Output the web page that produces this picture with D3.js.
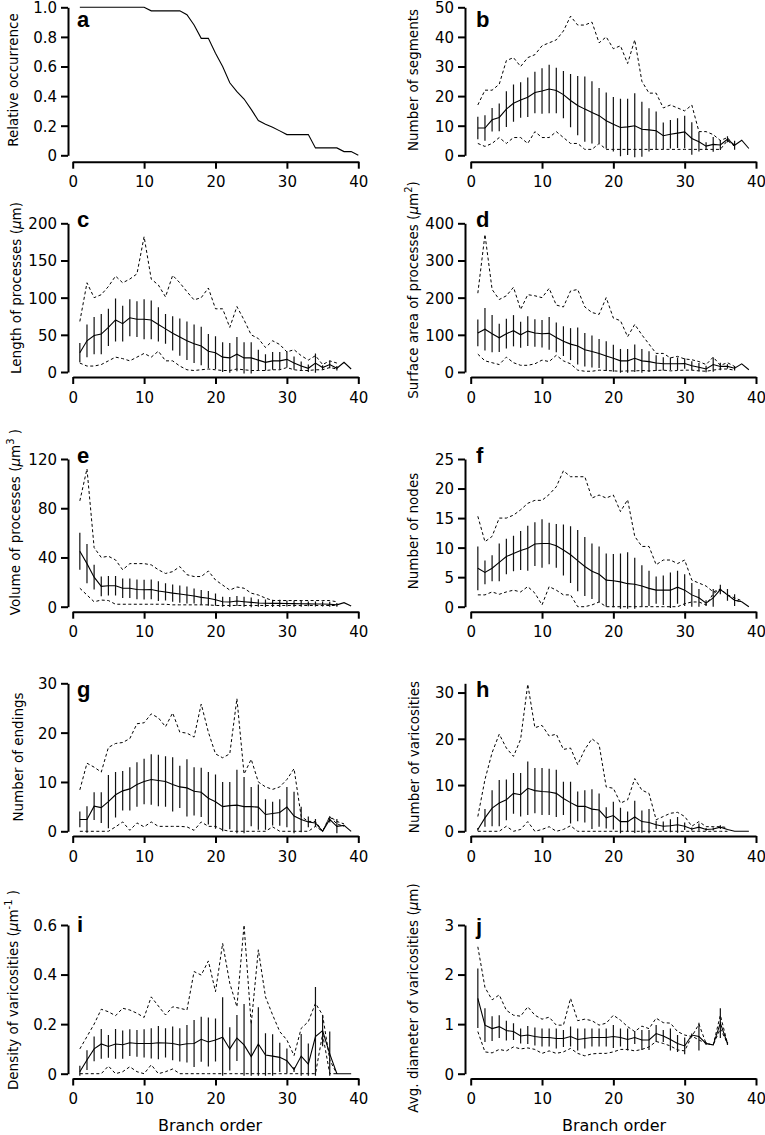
<!DOCTYPE html>
<html><head><meta charset="utf-8">
<script src="https://cdnjs.cloudflare.com/ajax/libs/d3/7.8.5/d3.min.js"></script>
<style>body{margin:0;background:#fff} svg{display:block}</style>
</head><body><svg id="c" width="765" height="1135"></svg>
<script>
// ---------- DATA (branch order 1..n) ----------
const xTicks = [0, 10, 20, 30, 40];

const aOcc = [1,1,1,1,1,1,1,1,1,1, 0.976,0.976,0.976,0.976,0.976, 0.95,0.88,0.79,0.79,0.69, 0.60,0.49,0.43,0.38,0.31, 0.235,0.21,0.19,0.165,0.14, 0.14,0.14,0.14,0.05,0.05, 0.05,0.05,0.025,0.025,0];
const aTicks = [0,0.2,0.4,0.6,0.8,1.0];
const aTickLabels = ['0','0.2','0.4','0.6','0.8','1.0'];

const bMean = [9.2,9.2,12,12.8,15.6,17.6,18.7,19.6,21.2,21.7, 22.4,21.9,20.5,18.5,16.8,15.6,14.5,13.4,11.7,10.5, 9.4,9.6,10,8.8,8.6,8.3,6.6,7.1,7.5,7.9, 5.7,4.6,3.1,3.7,3.5,5.4,3.4,5.1,2.3];
const bSD = [3.8,4.3,4,4.7,6,6.3,6,6.7,7,7.7, 8.2,7.7,8,9,10,11,10.5,9.3,9.5,9.2, 9.7,9.5,11,9.3,7.3,6.5,4.5,4.8,5,5.5, 5.5,3.3,1.3,2.5,1.7,1,1.5,null,null];
const bMax = [17,22,22,24,32,33,30,33,34,37, 38,39,42,47,44,44,45,38,40,36, 37,31,39,25,21,21,16,17,16,15, 17,8,8,7,5,6,3,null,null];
const bMin = [4,3,4,6,4,6,6,4,8,6, 6,8,6,4,4,2,2,4,2,2, 2,2,2,2,2,2,2,2,2,2, 2,2,2,2,2,5,3,null,null];
const bTicks = [0,10,20,30,40,50];

const cMean = [26,42,49,51,60,70,65,73,71,71, 70,64,58,52,47,42,38,35,28,26, 20,19,24,19,19,16,13,15,15,17, 12,8,5,12,6,10,5,13,4];
const cSD = [13,22,25,27,25,29,24,25,24,27, 26,23,20,23,25,26,26,26,23,22, 20,20,23,21,21,14,11,12,12,11, 9,6,5,13,3,5,3,null,null];
const cMax = [68,120,100,104,115,129,120,125,132,182, 125,117,101,130,120,108,97,100,113,85, 85,60,88,70,50,45,33,42,37,27, 30,22,16,22,10,15,12,null,null];
const cMin = [12,8,8,10,15,20,18,15,20,25, 20,28,15,15,8,3,2,3,4,3, 2,2,4,3,2,2,2,3,3,6, 3,2,2,3,3,6,4,null,null];
const cTicks = [0,50,100,150,200];

const dMean = [105,115,103,92,103,111,100,110,105,103, 104,93,83,75,70,60,55,50,43,37, 30,30,37,30,28,24,22,22,22,23, 17,13,8,20,15,15,10,22,6];
const dSD = [36,57,50,38,40,42,35,40,37,37, 44,40,40,43,50,45,43,39,40,36, 32,32,37,32,28,21,18,17,17,14, 12,11,9,19,10,6,6,null,null];
const dMax = [212,370,222,195,205,228,168,208,205,200, 225,180,175,218,222,175,160,155,200,145, 138,95,128,100,75,50,50,38,42,35, 33,28,20,40,18,25,15,null,null];
const dMin = [48,30,25,20,40,25,18,18,22,32, 28,45,30,22,5,2,2,5,4,3, 2,3,3,4,3,4,5,3,4,5, 5,3,2,5,8,8,5,null,null];
const dTicks = [0,100,200,300,400];

const eMean = [45,35,24,16.5,17,17,15,15,14,13.8, 14,12.7,12,11,10.3,9.5,8.7,7.6,6.8,5.7, 4,3.8,4.6,4,3.5,3,2.8,2.7,2.7,2.6, 2.5,2.4,2.3,2.2,2.2,2,1.5,3.3,0.5];
const eSD = [15,16,10,8,8,8,8,8,8,8, 8,8,7,7,7,7,6,6,6,5, 4,4,4,4,4,3,3,3,3,2.5, 2.5,2.5,2,2,2,2,1.5,null,null];
const eMax = [86,112,48,40,41,38,30,35,35,35, 34,30,27,28.5,32.6,26,24.5,24.5,29,21.7, 17.6,13.5,16,15,11,9.5,7,5,5,5, 5,5,5,5,5,5,4,null,null];
const eMin = [15,9.5,4,5.4,5,2,2,2,2,2, 2,2,2,1.5,1.5,1.5,1.5,1.5,1.5,1, 1,1,1,1,1,1,1,1,1,1, 1,1,1,1,1,1,1,null,null];
const eTicks = [0,40,80,120];

const fMean = [6.5,5.8,6.5,7.5,8.5,9,9.5,9.9,10.6,10.7, 10.7,10.3,9.6,8.8,7.8,6.8,6,5.5,4.5,4.4, 4.2,3.9,3.8,3.5,3.1,2.8,2.8,2.8,3.3,2.8, 2,1.5,0.6,1.5,2.9,2,1.1,0.85,0];
const fSD = [3.7,2,2.2,3.2,3,3,3.3,3.8,3.7,4.1, 3.5,3.7,4.3,4.8,5.2,5,4.7,4.7,4.5,4.5, 4.8,5.3,4.5,3.5,3,2.3,2.5,3,2.8,2.7, 2,1.5,0.5,1.5,0.8,1,1,null,null];
const fMax = [15.3,11,11.9,15,15,15.5,16.4,17.5,18,18, 19,20.3,23,22,22,22,18.4,18.9,18.4,18.9, 16.1,18.1,11.9,10.2,10.2,7.1,7.9,7.9,7.3,7.9, 4.5,4,3.5,2.5,3,2,1.5,1,null];
const fMin = [2,2,2.5,2.1,2.5,2.8,2.5,3.4,2.3,0.3, 3.4,2.8,2,2,0,0,0.3,0.8,0,0, 0,0,0,0,0,0,0,0,0,0.5, 0.8,0.8,0.3,2.2,3,2,1.1,0.85,null];
const fTicks = [0,5,10,15,20,25];

const gMean = [2.4,2.4,5.1,4.8,6,7.4,8.2,8.6,9.5,10.1, 10.5,10.3,10.1,9.5,9,8.8,8.1,7.9,6.7,6, 5,5.2,5.3,5,5,4.9,3.4,3.6,3.8,4.9, 3.1,2.4,1.9,1.7,0,2.4,1,1.2,0];
const gSD = [1.6,2.7,2.8,3.1,5.4,4.6,4,4.4,4.5,4.6, 5.1,5.2,5.1,5.5,4.3,5.8,4.9,5,5.3,5.5, 5,4.8,7.2,6,4,4.6,3.1,2.4,2.7,4.1, 4.9,2.6,1.1,0.8,0,0.6,1.5,null,null];
const gMax = [8.4,13.8,13,12,17,17.8,18,18.8,21.8,22, 23.8,23,21.2,24,20.1,19.9,19.1,25.8,20.1,15.7, 14.9,15.7,26.9,11.6,14.6,10,9,8.5,9,10.5, 12.7,3,2,2,0,3,2,1.5,null];
const gMin = [0,0,0,0,0,0.9,1.9,0.2,1.7,0.9, 1.9,1,1,1,1,0.9,0.2,1.9,1,1, 0.3,0,0,0,0,0,0,0.9,0,0, 0,0,0,1,0,3,1.5,1,null];
const gTicks = [0,10,20,30];

const hMean = [0.4,2.9,5,6.1,6.8,8.2,7.9,9.3,8.8,8.6, 8.5,8.2,7.1,6.2,5.4,5.4,4.8,4.6,2.9,3.4, 2.1,2.1,3.1,2.1,1.9,1.4,1.1,1.2,1.4,1.1, 0.5,0.9,0.4,0.5,0.9,0.4,0,0,0];
const hSD = [0.3,1.9,3.9,5,4.4,4.4,4.7,5.8,4.9,5.1, 5,5.1,3.6,4.5,3.2,3.5,4.3,3.6,2.3,3, 3,2.2,3.5,2.4,2.9,0.9,1,1.4,1.7,0.8, 0.3,0.8,0.3,0.3,0.4,null,null,null,null];
const hMax = [3.2,11.2,17,21,18,16.2,19.9,31.8,22.4,22.9, 20.6,21,17.7,18,14.4,17.7,20,18.8,9.6,9.3, 6.1,6.8,11.4,8.9,8.2,2.5,3.2,3.9,4.1,3.2, 1.1,2.1,1,1,1,0.8,null,null,null];
const hMin = [0,0,0,0,1.1,0,0.4,2.1,0,0.4, 1,0,0.4,1.2,0,0,0,0,0,0, 0,0,0,0,0,0,0,0,0,0, 0,0,0,0,0,0,null,null,null];
const hTicks = [0,10,20,30];

const iMean = [0.008,0.055,0.10,0.12,0.11,0.12,0.117,0.125,0.122,0.122, 0.122,0.125,0.124,0.122,0.116,0.121,0.122,0.139,0.128,0.136, 0.147,0.10,0.144,0.116,0.069,0.12,0.075,0.071,0.066,0.052, 0.017,0.071,0.039,0.15,0.174,0.08,0,0,0];
const iSD = [0.024,0.04,0.05,0.06,0.046,0.06,0.057,0.054,0.054,0.057, 0.061,0.067,0.059,0.068,0.067,0.076,0.095,0.091,0.099,0.087, 0.161,0.087,0.093,0.165,0.145,0.148,0.088,0.088,0.059,0.05, 0.01,0.089,0.083,0.2,0.063,0.09,null,null,null];
const iMax = [0.1,0.15,0.2,0.26,0.25,0.234,0.264,0.257,0.244,0.227, 0.31,0.273,0.237,0.27,0.264,0.257,0.412,0.398,0.455,0.331, 0.526,0.365,0.27,0.6,0.2,0.5,0.31,0.237,0.17,0.136, 0.073,0.183,0.21,0.284,0.237,0.055,0,null,null];
const iMin = [0,0,0,0,0.031,0,0.008,0.028,0.008,0, 0.036,0,0.008,0.019,0,0,0,0,0,0, 0,0,0,0,0,0,0,0,0,0, 0,0,0,0,0.16,0,0,null,null];
const iTicks = [0,0.2,0.4,0.6];
const iTickLabels = ['0','0.2','0.4','0.6'];

const jMean = [1.52,0.98,0.91,0.95,0.87,0.85,0.76,0.78,0.75,0.73, 0.73,0.71,0.71,0.75,0.69,0.71,0.73,0.73,0.73,0.75, 0.73,0.69,0.73,0.68,0.68,0.81,0.76,0.69,0.61,0.56, 0.78,0.75,0.61,0.58,1.02,0.61];
const jSD = [0.6,0.34,0.25,0.23,0.2,0.17,0.15,0.18,0.18,0.18, 0.18,0.2,0.17,0.2,0.22,0.2,0.18,0.18,0.18,0.23, 0.18,0.22,0.13,0.2,0.2,0.17,0.12,0.22,0.17,0.17, 0.03,0.28,0.03,null,0.3,0.03];
const jMax = [2.56,1.74,1.49,1.59,1.28,1.18,1.16,1.35,1.18,1.1, 1.14,0.98,0.98,1.52,1.07,1.1,1.07,0.98,1.02,1.18, 1.08,0.95,0.85,0.96,0.91,1.12,1.03,1.02,0.85,0.78, 0.75,1.0,0.61,0.58,1.18,0.61];
const jMin = [0.85,0.44,0.42,0.49,0.46,0.54,0.5,0.52,0.49,0.41, 0.46,0.41,0.44,0.51,0.41,0.36,0.4,0.41,0.41,0.44, 0.49,0.49,0.46,0.49,0.54,0.65,0.61,0.56,0.48,0.46, 0.76,0.68,0.61,0.58,0.91,0.61];
const jTicks = [0,1,2,3];

const xLabel = 'Branch order';

// ---------- LAYOUT ----------
const FONT = "'DejaVu Sans', sans-serif";
const cols = [
  {axisX: 68, x0: 72.7, x1: 358.3, lab: 77, xlx: 210},
  {axisX: 465, x0: 470.7, x1: 756, lab: 476, xlx: 614}
];
const rows = [
  {top: 7.3,   bot: 155.3,  xa: 161.7},
  {top: 223.3, bot: 372,    xa: 377},
  {top: 459,   bot: 606.7,  xa: 611.7},
  {top: 683.3, bot: 831.3,  xa: 836},
  {top: 925,   bot: 1073.7, xa: 1078.5}
];
const U = [{t:' ('},{t:'\u03bc',it:true},{t:'m'}];
const panels = [
  {id:'a', c:0, r:0, yMax:1, ticks:aTicks, labels:aTickLabels, line:aOcc,
   title:[{t:'Relative occurrence'}], tx:18.3, ty:80, ly:27.3},
  {id:'b', c:1, r:0, yMax:50, ticks:bTicks, mean:bMean, sd:bSD, max:bMax, min:bMin,
   title:[{t:'Number of segments'}], tx:418, ty:80, ly:27.3},
  {id:'c', c:0, r:1, yMax:200, ticks:cTicks, mean:cMean, sd:cSD, max:cMax, min:cMin,
   title:[{t:'Length of processes'},...U,{t:')'}], tx:21, ty:288, ly:226.7},
  {id:'d', c:1, r:1, yMax:400, ticks:dTicks, mean:dMean, sd:dSD, max:dMax, min:dMin,
   title:[{t:'Surface area of processes'},...U,{t:'2',sup:true},{t:')'}], tx:418, ty:290, ly:227.3},
  {id:'e', c:0, r:2, yMax:120, ticks:eTicks, mean:eMean, sd:eSD, max:eMax, min:eMin,
   title:[{t:'Volume of processes'},...U,{t:'3',sup:true},{t:' )'}], tx:20, ty:522, ly:463.3},
  {id:'f', c:1, r:2, yMax:25, ticks:fTicks, mean:fMean, sd:fSD, max:fMax, min:fMin,
   title:[{t:'Number of nodes'}], tx:418, ty:531, ly:463.3},
  {id:'g', c:0, r:3, yMax:30, ticks:gTicks, mean:gMean, sd:gSD, max:gMax, min:gMin,
   title:[{t:'Number of endings'}], tx:23, ty:757, ly:696.7},
  {id:'h', c:1, r:3, yMax:32, ticks:hTicks, mean:hMean, sd:hSD, max:hMax, min:hMin,
   title:[{t:'Number of varicosities'}], tx:419, ty:757, ly:696.7},
  {id:'i', c:0, r:4, yMax:0.6, ticks:iTicks, labels:iTickLabels, mean:iMean, sd:iSD, max:iMax, min:iMin,
   title:[{t:'Density of varicosities'},...U,{t:'-1',sup:true},{t:' )'}], tx:18, ty:990, ly:932.3, xl:true},
  {id:'j', c:1, r:4, yMax:3, ticks:jTicks, mean:jMean, sd:jSD, max:jMax, min:jMin,
   title:[{t:'Avg. diameter of varicosities'},...U,{t:')'}], tx:418, ty:998, ly:933.5, xl:true}
];

// ---------- DRAW ----------
const svg = d3.select('#c');
svg.append('rect').attr('width',765).attr('height',1135).attr('fill','#fff');
const defs = svg.append('defs');

panels.forEach(p => {
  const col = cols[p.c], row = rows[p.r];
  const x = d3.scaleLinear().domain([0, 40]).range([col.x0, col.x1]);
  const y = d3.scaleLinear().domain([0, p.yMax]).range([row.bot, row.top]);
  const g = svg.append('g');

  defs.append('clipPath').attr('id', 'clip-' + p.id).append('rect')
    .attr('x', col.x0 - 2).attr('y', row.top - 10)
    .attr('width', col.x1 - col.x0 + 4).attr('height', row.bot - row.top + 12);

  // y axis
  const ya = d3.axisLeft(y).tickValues(p.ticks).tickSize(7).tickSizeOuter(0).tickPadding(4)
    .tickFormat((d, i) => p.labels ? p.labels[i] : String(d));
  const yg = g.append('g').attr('transform', `translate(${col.axisX},0)`).call(ya);
  // x axis
  const xa = d3.axisBottom(x).tickValues(xTicks).tickSize(7).tickSizeOuter(0).tickPadding(8);
  const xg = g.append('g').attr('transform', `translate(0,${row.xa})`).call(xa);
  [yg, xg].forEach(a => {
    a.select('.domain').attr('stroke', '#000').attr('stroke-width', 2);
    a.selectAll('.tick line').attr('stroke', '#000').attr('stroke-width', 2);
    a.selectAll('.tick text').attr('fill', '#000').style('font-family', FONT).style('font-size', '15px');
  });
  yg.selectAll('.tick text').attr('dy', '0.36em');

  const idx = arr => arr.map((v, i) => ({x: i + 1, v}));
  const lineGen = d3.line().defined(d => d.v != null).x(d => x(d.x)).y(d => y(d.v));
  const plot = g.append('g').attr('clip-path', `url(#clip-${p.id})`);

  if (p.line) {
    plot.append('path').datum(idx(p.line)).attr('d', lineGen)
      .attr('fill', 'none').attr('stroke', '#000').attr('stroke-width', 1.1);
  } else {
    // dashed max/min
    [p.max, p.min].forEach(arr => {
      plot.append('path').datum(idx(arr)).attr('d', lineGen)
        .attr('fill', 'none').attr('stroke', '#000').attr('stroke-width', 1)
        .attr('stroke-dasharray', '3,2.5');
    });
    // SD error bars
    const bars = p.mean.map((m, i) => ({x: i + 1, m, s: p.sd[i]})).filter(d => d.s != null && d.m != null);
    plot.selectAll('line.err').data(bars).enter().append('line').attr('class', 'err')
      .attr('x1', d => x(d.x)).attr('x2', d => x(d.x))
      .attr('y1', d => y(d.m - d.s)).attr('y2', d => y(d.m + d.s))
      .attr('stroke', '#111').attr('stroke-width', 1.2);
    // mean line
    plot.append('path').datum(idx(p.mean)).attr('d', lineGen)
      .attr('fill', 'none').attr('stroke', '#000').attr('stroke-width', 1.1);
  }

  // panel letter
  g.append('text').attr('x', col.lab).attr('y', p.ly).text(p.id)
    .style('font-family', "'Liberation Sans', Arial, sans-serif").style('font-weight', 'bold')
    .style('font-size', '22px').attr('fill', '#000');

  // y title
  const t = g.append('text').attr('transform', `translate(${p.tx},${p.ty}) rotate(-90)`)
    .attr('text-anchor', 'middle').style('font-family', FONT).style('font-size', '13.5px').attr('fill', '#000');
  let shifted = false;
  p.title.forEach(s => {
    const ts = t.append('tspan').text(s.t);
    if (s.it) ts.style('font-style', 'italic');
    if (s.sup) { ts.attr('dy', -6).style('font-size', '10px'); shifted = true; }
    else if (shifted) { ts.attr('dy', 6); shifted = false; }
  });

  if (p.xl) {
    g.append('text').attr('x', col.xlx).attr('y', 1131).attr('text-anchor', 'middle')
      .style('font-family', FONT).style('font-size', '16px').attr('fill', '#000').text(xLabel);
  }
});
</script></body></html>
